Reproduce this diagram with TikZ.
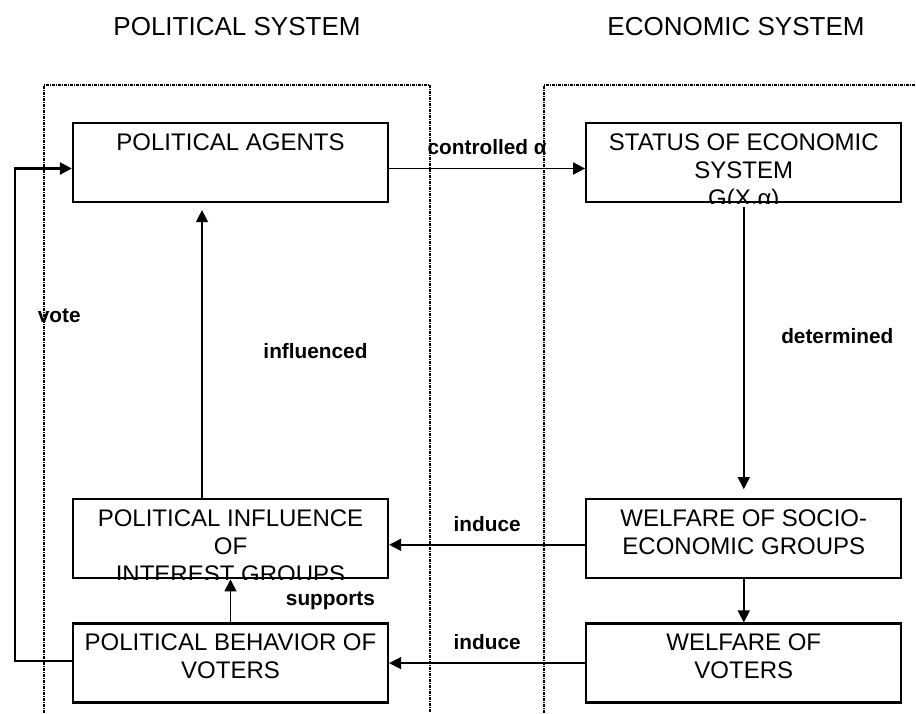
\documentclass[tikz,border=0pt]{standalone}
\usepackage{fontspec}
\setmainfont{Liberation Sans}
\usepackage{tikz}
\usetikzlibrary{arrows.meta,positioning}

\begin{document}
\begin{tikzpicture}[x=0.5pt,y=-0.5pt,->,>={Triangle[length=6pt,width=6pt]},line width=0.8pt,
    block/.style={draw,rectangle,line width=1.15pt,minimum width=157.5pt,minimum height=39.5pt,inner sep=0pt},
    blocktext/.style={anchor=north,inner ysep=0pt,yshift=-5.4pt,align=center,font=\fontsize{12}{14}\selectfont},
    lbl/.style={font=\bfseries\fontsize{10.4}{12}\selectfont},
    title/.style={font=\fontsize{13}{15}\selectfont},
    frame/.style={-,line width=0.6pt,dash pattern=on 1.5pt off 0.5pt on 0.5pt off 0.5pt},
    vote/.style={line width=1.3pt}]
    \useasboundingbox (0,0) rectangle (916,713);

    % the two systems
    \node[title] (poltitle) at (237,27) {POLITICAL SYSTEM};
    \node[title] (ecotitle) at (736,27) {ECONOMIC SYSTEM};
    \draw[frame] (44,713) -- (44,85) -- (430,85) -- (430,713);
    \draw[frame] (544,713) -- (544,85) -- (916,85);

    \node[block] (agents)   at (230.5,162.5)            {};
    \node[block] (status)   [right=98pt of agents]      {};
    \node[block] (influence)[below=147.5pt of agents]   {};
    \node[block] (behavior) [below=21.5pt of influence] {};
    \node[block] (socio)    [below=147.5pt of status]   {};
    \node[block] (voters)   [below=21.5pt of socio]     {};

    % box texts, cut off at the box border
    \foreach \blk/\txt in {agents/{POLITICAL AGENTS},
        status/{STATUS OF ECONOMIC\\SYSTEM\\G(X,α)},
        influence/{POLITICAL INFLUENCE\\OF\\INTEREST GROUPS},
        behavior/{POLITICAL BEHAVIOR OF\\VOTERS},
        socio/{WELFARE OF SOCIO-\\ECONOMIC GROUPS},
        voters/{WELFARE OF\\VOTERS}} {
      \begin{scope}
        \clip (\blk.south west) rectangle (\blk.north east);
        \node[blocktext] (\blk-text) at (\blk.north) {\txt};
      \end{scope}
    }

    \path ([yshift=-3pt]agents.east) edge node[lbl,above=3pt,name=ctrllbl] {controlled α} ([yshift=-3pt]status.west);
    \path (status.south) edge[shorten <=2pt,shorten >=4.5pt] node[lbl,right=15pt,pos=0.45,name=detlbl] {determined} (socio.north);
    \path (socio.south) edge (voters.north);
    \path ([yshift=-3pt]socio.west) edge node[lbl,above=3pt,name=indlbl] {induce} ([yshift=-3pt]influence.east);
    \path (voters.west) edge node[lbl,above=3pt,name=indvlbl] {induce} (behavior.east);
    \path ([xshift=-14.25pt]influence.north) edge[shorten >=3.5pt] node[lbl,right=27pt,name=inflbl] {influenced} ([xshift=-14.25pt]agents.south);
    \path (behavior.north) edge node[lbl,right=24pt,name=suplbl] {supports} (influence.south);
    \draw[vote] ([yshift=1pt]behavior.west) -- ++(-57,0) |- node[lbl,pos=0.35,right=7.5pt,name=votelbl] {vote} ([yshift=-3pt]agents.west);
\end{tikzpicture}
\end{document}
